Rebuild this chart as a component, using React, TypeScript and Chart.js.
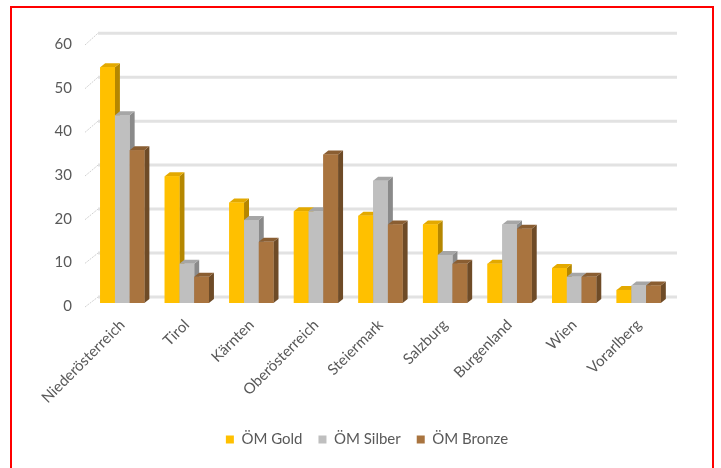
import React, { useEffect, useRef } from 'react';
import { Chart, registerables } from 'chart.js';

Chart.register(...registerables);

const categories = ['Niederösterreich', 'Tirol', 'Kärnten', 'Oberösterreich', 'Steiermark', 'Salzburg', 'Burgenland', 'Wien', 'Vorarlberg'];
const goldValues = [54, 29, 23, 21, 20, 18, 9, 8, 3];
const silverValues = [43, 9, 19, 21, 28, 11, 18, 6, 4];
const bronzeValues = [35, 6, 14, 34, 18, 9, 17, 6, 4];
const seriesNames = ['ÖM Gold', 'ÖM Silber', 'ÖM Bronze'];
const yTicks = [0, 10, 20, 30, 40, 50, 60];

const faceColors = [
  { front: '#FFC000', side: '#B58700', top: '#E3A900' },
  { front: '#BFBFBF', side: '#8A8A8A', top: '#A6A6A6' },
  { front: '#A9743F', side: '#6E4B27', top: '#8A5E32' },
];

const DX = 5;
const DY = 4;

const grid3d = {
  id: 'grid3d',
  beforeDatasetsDraw(chart: any) {
    const { ctx, chartArea, scales } = chart;
    const y = scales.y;
    ctx.save();
    yTicks.forEach((v) => {
      const yf = y.getPixelForValue(v);
      const yb = yf - 6 - v * 0.03;
      ctx.strokeStyle = '#E2E2E2';
      ctx.lineWidth = 3;
      ctx.beginPath();
      ctx.moveTo(chartArea.left + 8, yb);
      ctx.lineTo(chartArea.right + 6, yb);
      ctx.stroke();
      ctx.strokeStyle = '#D0D0D0';
      ctx.lineWidth = 1;
      ctx.setLineDash([2, 1]);
      ctx.beginPath();
      ctx.moveTo(chartArea.left - 5, yf + 4);
      ctx.lineTo(chartArea.left + 8, yb);
      ctx.stroke();
      ctx.setLineDash([]);
    });
    ctx.restore();
  },
};

const bars3d = {
  id: 'bars3d',
  afterDatasetsDraw(chart: any) {
    const ctx = chart.ctx;
    const n = chart.data.labels.length;
    const metas = chart.data.datasets.map((_: any, d: number) => chart.getDatasetMeta(d));
    ctx.save();
    for (let i = 0; i < n; i++) {
      for (let d = 0; d < metas.length; d++) {
        const el = metas[d].data[i];
        if (!el) continue;
        const { x, y, base, width } = el.getProps(['x', 'y', 'base', 'width'], true);
        const l = x - width / 2;
        const r = x + width / 2;
        const c = faceColors[d];
        ctx.fillStyle = c.side;
        ctx.beginPath();
        ctx.moveTo(r, y);
        ctx.lineTo(r + DX, y - DY);
        ctx.lineTo(r + DX, base - DY);
        ctx.lineTo(r, base);
        ctx.closePath();
        ctx.fill();
        ctx.fillStyle = c.top;
        ctx.beginPath();
        ctx.moveTo(l, y);
        ctx.lineTo(l + DX, y - DY);
        ctx.lineTo(r + DX, y - DY);
        ctx.lineTo(r, y);
        ctx.closePath();
        ctx.fill();
        ctx.fillStyle = c.front;
        ctx.fillRect(l, y, width, base - y);
      }
    }
    ctx.restore();
  },
};

export default function App() {
  const canvasRef = useRef<HTMLCanvasElement | null>(null);

  useEffect(() => {
    if (!canvasRef.current) return;
    const font = { family: 'Lato', size: 15 };
    const chart = new Chart(canvasRef.current, {
      type: 'bar',
      data: {
        labels: categories,
        datasets: [
          { label: seriesNames[0], data: goldValues, backgroundColor: faceColors[0].front, categoryPercentage: 0.685, barPercentage: 1 },
          { label: seriesNames[1], data: silverValues, backgroundColor: faceColors[1].front, categoryPercentage: 0.685, barPercentage: 1 },
          { label: seriesNames[2], data: bronzeValues, backgroundColor: faceColors[2].front, categoryPercentage: 0.685, barPercentage: 1 },
        ],
      },
      options: {
        animation: false,
        responsive: true,
        maintainAspectRatio: false,
        layout: { padding: { left: 10, right: 0, top: 33, bottom: 17 } },
        plugins: {
          legend: {
            position: 'bottom',
            labels: { boxWidth: 8, boxHeight: 8, color: '#595959', font, padding: 16 },
          },
          tooltip: { enabled: false },
        },
        scales: {
          x: {
            grid: { display: false, drawTicks: false },
            border: { display: false },
            ticks: { color: '#595959', font, minRotation: 45, maxRotation: 45, padding: 13, autoSkip: false },
            afterFit(s: any) { s.height = 113; },
          },
          y: {
            min: 0,
            max: 60,
            grid: { display: false, drawTicks: false },
            border: { display: false },
            ticks: { stepSize: 10, color: '#595959', font, padding: 18, labelOffset: 3 },
            afterFit(s: any) { s.width = 68; },
          },
          y2: {
            type: 'linear',
            position: 'right',
            display: true,
            grid: { display: false, drawTicks: false },
            border: { display: false },
            ticks: { display: false },
            afterFit(s: any) { s.width = 41; },
          },
        },
      } as any,
      plugins: [grid3d, bars3d],
    });
    return () => chart.destroy();
  }, []);

  return (
    <div
      style={{
        position: 'absolute',
        left: 10,
        top: 6,
        width: 704,
        height: 470,
        border: '2px solid #FF0000',
        boxSizing: 'border-box',
        background: '#FFFFFF',
      }}
    >
      <div style={{ position: 'relative', width: '100%', height: '100%' }}>
        <canvas ref={canvasRef} />
      </div>
    </div>
  );
}
